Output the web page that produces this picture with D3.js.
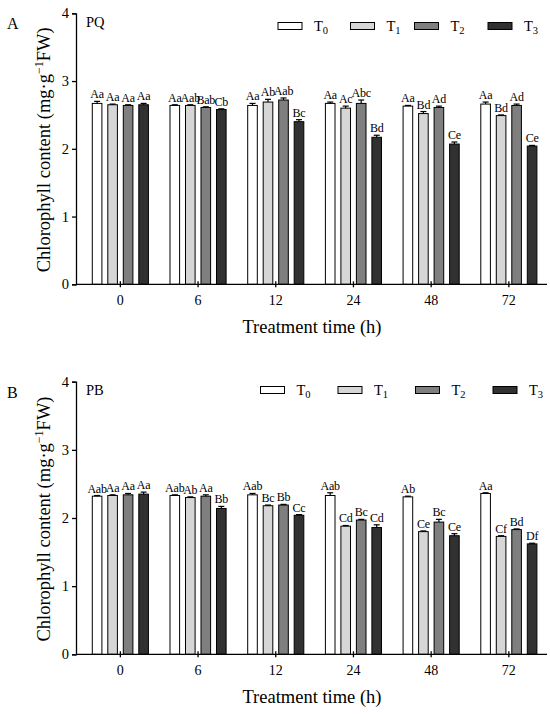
<!DOCTYPE html>
<html>
<head>
<meta charset="utf-8">
<script src="https://cdn.jsdelivr.net/npm/d3@7"></script>
<style>
  body { margin: 0; background: #fff; }
  text { font-family: "Liberation Serif", "DejaVu Serif", serif; fill: #000; }
</style>
</head>
<body>
<div id="chart"></div>
<script>
const times = ["0", "6", "12", "24", "48", "72"];
const treatments = ["T0", "T1", "T2", "T3"];
const fills = ["#ffffff", "#d6d6d6", "#7f7f7f", "#313131"];
const yTicks = [0, 1, 2, 3, 4];

// panel A (PQ), one row per time point, columns T0..T3
const pqMeans = [
    [2.67, 2.65, 2.64, 2.65],
    [2.64, 2.64, 2.61, 2.58],
    [2.64, 2.69, 2.72, 2.40],
    [2.67, 2.60, 2.67, 2.17],
    [2.63, 2.52, 2.61, 2.07],
    [2.66, 2.49, 2.64, 2.04]
];
const pqErr = [
    [0.03, 0.01, 0.01, 0.02],
    [0.01, 0.01, 0.01, 0.01],
    [0.03, 0.04, 0.03, 0.03],
    [0.02, 0.03, 0.05, 0.03],
    [0.01, 0.03, 0.02, 0.03],
    [0.03, 0.01, 0.02, 0.01]
];
const pqLetters = [
    ["Aa", "Aa", "Aa", "Aa"],
    ["Aa", "Aab", "Bab", "Cb"],
    ["Aa", "Ab", "Aab", "Bc"],
    ["Aa", "Ac", "Abc", "Bd"],
    ["Aa", "Bd", "Ad", "Ce"],
    ["Aa", "Bd", "Ad", "Ce"]
];

// panel B (PB)
const pbMeans = [
    [2.32, 2.33, 2.34, 2.35],
    [2.33, 2.30, 2.32, 2.14],
    [2.34, 2.18, 2.19, 2.04],
    [2.33, 1.88, 1.97, 1.86],
    [2.31, 1.80, 1.94, 1.74],
    [2.36, 1.73, 1.83, 1.62]
];
const pbErr = [
    [0.01, 0.01, 0.02, 0.03],
    [0.01, 0.01, 0.02, 0.03],
    [0.02, 0.01, 0.01, 0.01],
    [0.04, 0.01, 0.01, 0.04],
    [0.01, 0.01, 0.04, 0.03],
    [0.01, 0.01, 0.01, 0.01]
];
const pbLetters = [
    ["Aab", "Aa", "Aa", "Aa"],
    ["Aab", "Ab", "Aa", "Bb"],
    ["Aab", "Bc", "Bb", "Cc"],
    ["Aab", "Cd", "Bc", "Cd"],
    ["Ab", "Ce", "Bc", "Ce"],
    ["Aa", "Cf", "Bd", "Df"]
];

const W = 550, H = 714;
const svg = d3.select("#chart").append("svg")
    .attr("width", W)
    .attr("height", H);

function drawPanel(opt) {
    const g = svg.append("g");
    const axisX = 76, axisRight = 547;

    const y = d3.scaleLinear().domain([0, 4]).range([opt.bottom, opt.top]);
    const x0 = d3.scaleBand().domain(times).range([81.5, 547.7]);
    const x1 = d3.scaleBand().domain(treatments)
        .range([-31, 31]).paddingInner(0.38).paddingOuter(0.19);

    const rows = [];
    times.forEach((t, i) => treatments.forEach((s, j) => {
        rows.push({ time: t, tr: s, j: j, v: opt.means[i][j], e: opt.err[i][j], lab: opt.letters[i][j] });
    }));
    const cx = d => x0(d.time) + x0.bandwidth() / 2 + x1(d.tr);

    // bars
    g.selectAll("rect.bar").data(rows).join("rect")
        .attr("class", "bar")
        .attr("x", cx)
        .attr("y", d => y(d.v))
        .attr("width", x1.bandwidth())
        .attr("height", d => y(0) - y(d.v))
        .attr("fill", d => fills[d.j])
        .attr("stroke", "#000")
        .attr("stroke-width", 1);

    // error bars (upper half only)
    const bw = x1.bandwidth();
    g.selectAll("line.err").data(rows).join("line")
        .attr("class", "err")
        .attr("x1", d => cx(d) + bw / 2).attr("x2", d => cx(d) + bw / 2)
        .attr("y1", d => y(d.v)).attr("y2", d => y(d.v + d.e))
        .attr("stroke", "#000").attr("stroke-width", 1.2);
    g.selectAll("line.cap").data(rows).join("line")
        .attr("class", "cap")
        .attr("x1", d => cx(d) + bw / 2 - 3).attr("x2", d => cx(d) + bw / 2 + 3)
        .attr("y1", d => y(d.v + d.e)).attr("y2", d => y(d.v + d.e))
        .attr("stroke", "#000").attr("stroke-width", 1.2);

    // significance letters
    g.selectAll("text.sig").data(rows).join("text")
        .attr("class", "sig")
        .attr("x", d => cx(d) + bw / 2)
        .attr("y", d => y(d.v + d.e) - 3)
        .attr("text-anchor", "middle")
        .style("font-size", "12px")
        .style("letter-spacing", "-0.2px")
        .text(d => d.lab);

    // y axis
    const ya = g.append("g")
        .attr("transform", `translate(${axisX},0)`)
        .call(d3.axisLeft(y).tickValues(yTicks).tickSize(4).tickPadding(3).tickFormat(d3.format("d")));
    ya.selectAll("text").style("font-size", "14.5px").style("font-family", "Liberation Serif");
    ya.selectAll("line, path").attr("stroke", "#000").attr("stroke-width", 1.3);

    // x axis
    const xa = g.append("g")
        .attr("transform", `translate(0,${opt.bottom})`)
        .call(d3.axisBottom(x0).tickSize(3).tickPadding(8).tickSizeOuter(0));
    xa.select(".domain").attr("d", `M${axisX},0H${axisRight}`);
    xa.selectAll(".tick line").attr("y1", -3).attr("y2", 3);
    xa.selectAll("text").style("font-size", "14px").style("font-family", "Liberation Serif");
    xa.selectAll("line, path").attr("stroke", "#000").attr("stroke-width", 1.3);

    // axis titles
    g.append("text")
        .attr("transform", `translate(50,${(opt.top + opt.bottom) / 2 + 1}) rotate(-90)`)
        .attr("text-anchor", "middle")
        .style("font-size", "18.5px")
        .call(t => {
            t.append("tspan").text("Chlorophyll content (mg·g");
            t.append("tspan").attr("baseline-shift", "super").style("font-size", "12px").text("−1");
            t.append("tspan").text("FW)");
        });
    g.append("text")
        .attr("x", 312).attr("y", opt.bottom + 49)
        .attr("text-anchor", "middle")
        .style("font-size", "18.5px")
        .text("Treatment time (h)");

    // panel letter and treatment name
    g.append("text").attr("x", 7).attr("y", opt.top + 16)
        .style("font-size", "16px").text(opt.letter);
    g.append("text").attr("x", 86).attr("y", opt.top + 13.5)
        .style("font-size", "14.5px").text(opt.name);

    // legend
    const lg = g.selectAll("g.leg").data(treatments).join("g")
        .attr("class", "leg")
        .attr("transform", (d, i) => `translate(${opt.legX[i]},${opt.legY})`);
    lg.append("rect")
        .attr("x", 0).attr("y", -3.5)
        .attr("width", 24).attr("height", 7)
        .attr("fill", (d, i) => fills[i])
        .attr("stroke", "#000").attr("stroke-width", 1);
    lg.append("text")
        .attr("x", 36).attr("y", 5)
        .style("font-size", "14.5px")
        .call(t => {
            t.append("tspan").text("T");
            t.append("tspan").attr("dy", 3).style("font-size", "10.5px").text(d => d.slice(1));
        });
}

drawPanel({
    top: 13.3, bottom: 284.3, means: pqMeans, err: pqErr, letters: pqLetters,
    letter: "A", name: "PQ", legY: 26, legX: [278, 350.5, 414.5, 488]
});
drawPanel({
    top: 381.7, bottom: 654.3, means: pbMeans, err: pbErr, letters: pbLetters,
    letter: "B", name: "PB", legY: 390, legX: [260.5, 338, 415.5, 493]
});
</script>
</body>
</html>
